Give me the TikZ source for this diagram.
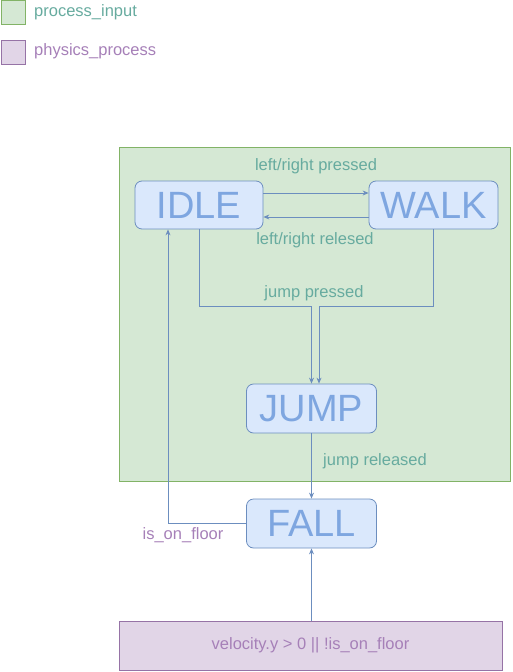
\documentclass[tikz,border=0pt]{standalone}
\usepackage{fontspec}
\setmainfont{Liberation Sans}
\usetikzlibrary{arrows.meta}
\definecolor{gfill}{HTML}{D5E8D4}
\definecolor{gline}{HTML}{82B366}
\definecolor{pfill}{HTML}{E1D5E7}
\definecolor{pline}{HTML}{9673A6}
\definecolor{bfill}{HTML}{DAE8FC}
\definecolor{bline}{HTML}{6C8EBF}
\definecolor{btext}{HTML}{7EA6E0}
\definecolor{gtext}{HTML}{67AB9F}
\definecolor{ptext}{HTML}{A680B8}
\tikzset{
  statebox/.style={draw=bline, fill=bfill, rounded corners=7pt, line width=0.8pt,
    minimum width=129pt, minimum height=48pt, inner sep=0pt,
    text=btext, font=\fontsize{38}{42}\selectfont},
  arr/.style={draw=bline, line width=0.8pt, -{Stealth[length=6pt,width=5pt]}},
  glabel/.style={text=gtext, font=\fontsize{16.5}{19}\selectfont, inner sep=0pt},
  plabel/.style={text=ptext, font=\fontsize{16.5}{19}\selectfont, inner sep=0pt},
}
\begin{document}
\begin{tikzpicture}[x=1pt,y=-1pt]
\useasboundingbox (0,0) rectangle (512,672);
% legend
\node[draw=gline, fill=gfill, line width=0.8pt, minimum width=24pt, minimum height=24pt, inner sep=0pt] (lg) at (13,12) {};
\node[glabel, anchor=west] (lgt) at (34,12) {process\_input};
\node[draw=pline, fill=pfill, line width=0.8pt, minimum width=24pt, minimum height=24pt, inner sep=0pt] (lp) at (13,52) {};
\node[plabel, anchor=west] (lpt) at (34,51) {physics\_process};
% container
\node[draw=gline, fill=gfill, line width=0.8pt, minimum width=391pt, minimum height=334pt, inner sep=0pt] (cont) at (314.5,314) {};
% states
\node[statebox, minimum width=128pt] (idle) at (199,205) {IDLE};
\node[statebox] (walk) at (433.5,205) {WALK};
\node[statebox, minimum width=130pt, minimum height=49pt] (jump) at (311.5,408.5) {JUMP};
\node[statebox, minimum width=130pt, minimum height=49pt] (fall) at (311.5,523.5) {FALL};
\node[draw=pline, fill=pfill, line width=0.8pt, minimum width=383pt, minimum height=49pt, inner sep=0pt,
  text=ptext, font=\fontsize{16.5}{19}\selectfont] (cond) at (310.5,645.5) {velocity.y > 0 || !is\_on\_floor};
% connectors
\draw[arr] ([yshift=12pt]idle.east) -- ([yshift=12pt]walk.west);
\draw[arr] ([yshift=-12pt]walk.west) -- ([yshift=-12pt]idle.east);
\draw[arr] (idle.south) -- (idle.south |- 0,306) -- (jump.north |- 0,306) -- (jump.north);
\draw[arr] (walk.south) -- (walk.south |- 0,306) -- ([xshift=7.5pt]jump.north |- 0,306) -- ([xshift=7.5pt]jump.north);
\draw[arr] (jump.south) -- (fall.north);
\draw[arr] (fall.west) -| ([xshift=-31pt]idle.south);
\draw[arr] (fall.south |- cond.north) -- (fall.south);
% labels
\node[glabel] (l1) at (316,166) {left/right pressed};
\node[glabel] (l2) at (315,240) {left/right relesed};
\node[glabel] (l3) at (314,293) {jump pressed};
\node[glabel] (l4) at (375,461) {jump released};
\node[plabel] (l5) at (183,535) {is\_on\_floor};
\end{tikzpicture}
\end{document}
